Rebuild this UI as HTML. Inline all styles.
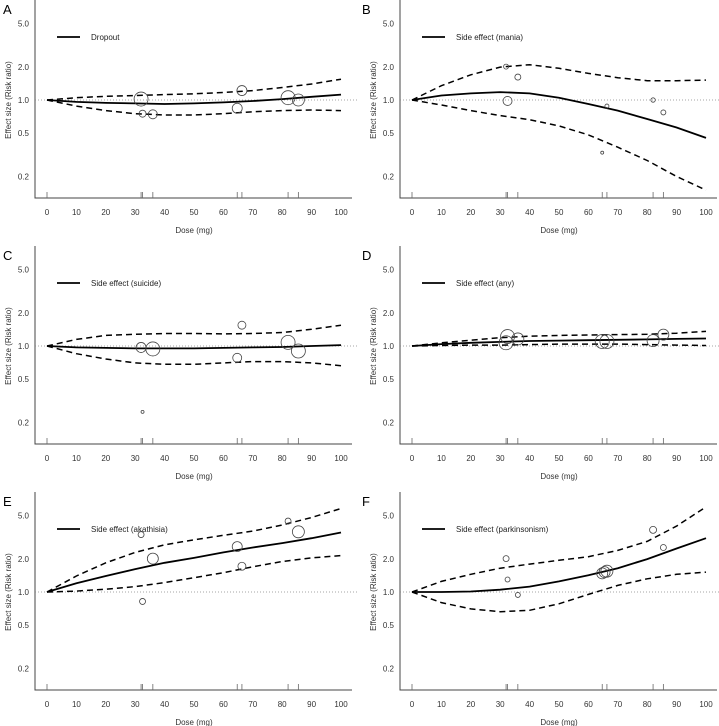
<!DOCTYPE html>
<html><head><meta charset="utf-8"><style>
html,body{margin:0;padding:0;background:#fff;}
svg{display:block;font-family:"Liberation Sans",Arial,sans-serif;}
</style></head><body>
<svg id="chart" width="719" height="726" viewBox="0 0 719 726" xmlns="http://www.w3.org/2000/svg"></svg>
<script>
const doses = [0,10,20,30,40,50,60,70,80,90,100];
const xTicks = [0,10,20,30,40,50,60,70,80,90,100];
const yTicks = [0.2,0.5,1.0,2.0,5.0];
const yTickLabels = ["0.2","0.5","1.0","2.0","5.0"];
const rugDoses = [0,32,32.5,36,64.7,66.3,82,85.5];
const panelLetters = ["A","B","C","D","E","F"];
const panelTitles = ["Dropout","Side effect (mania)","Side effect (suicide)","Side effect (any)","Side effect (akathisia)","Side effect (parkinsonism)"];
const meanA=[1,.96,.94,.93,.92,.93,.95,.98,1.02,1.07,1.12];
const upA=[1,1.05,1.08,1.1,1.12,1.14,1.17,1.22,1.3,1.4,1.55];
const loA=[1,.88,.8,.75,.73,.73,.75,.78,.8,.81,.8];
const ptDoseA=[32,32.5,36,64.7,66.3,82,85.5], ptValA=[1.02,0.75,0.74,0.84,1.22,1.05,1.0], ptSizeA=[7,3.5,4.5,5,5,7,6];
const meanB=[1,1.1,1.15,1.18,1.15,1.05,0.92,0.8,0.67,0.56,0.45];
const upB=[1,1.35,1.7,2.0,2.1,1.95,1.75,1.6,1.5,1.5,1.52];
const loB=[1,0.9,0.8,0.72,0.66,0.58,0.48,0.37,0.28,0.2,0.15];
const ptDoseB=[32,36,32.5,66.3,64.7,82,85.5], ptValB=[2.02,1.62,0.98,0.88,0.33,1.0,0.77], ptSizeB=[2.5,3,4.5,2,1.5,2.2,2.5];
const meanC=[1,.97,.96,.95,.95,.95,.96,.97,.98,1.0,1.02];
const upC=[1,1.15,1.25,1.28,1.3,1.3,1.29,1.3,1.33,1.42,1.55];
const loC=[1,.85,.76,.7,.68,.68,.7,.72,.72,.7,.66];
const ptDoseC=[32,36,64.7,66.3,82,85.5,32.5], ptValC=[0.97,0.94,0.78,1.55,1.08,0.9,0.25], ptSizeC=[5,7,4.5,4,7,7,1.5];
const meanD=[1,1.04,1.07,1.09,1.11,1.12,1.13,1.14,1.15,1.16,1.17];
const upD=[1,1.07,1.13,1.19,1.23,1.25,1.26,1.27,1.28,1.31,1.36];
const loD=[1,1.01,1.02,1.02,1.03,1.04,1.04,1.04,1.03,1.02,1.01];
const ptDoseD=[32,32.5,36,64.7,66.3,82,85.5], ptValD=[1.07,1.22,1.16,1.1,1.1,1.12,1.27], ptSizeD=[7,7,6,7,7,6,5.5];
const meanE=[1,1.2,1.4,1.62,1.85,2.05,2.3,2.55,2.8,3.1,3.5];
const upE=[1,1.4,1.85,2.3,2.7,3.0,3.3,3.6,4.1,4.8,5.8];
const loE=[1,1.02,1.06,1.12,1.22,1.35,1.5,1.7,1.9,2.05,2.15];
const ptDoseE=[32,32.5,36,64.7,66.3,82,85.5], ptValE=[3.35,0.82,2.02,2.6,1.72,4.45,3.55], ptSizeE=[3,3,5.5,5,4,3,6];
const meanF=[1,1.0,1.01,1.05,1.12,1.25,1.42,1.65,2.0,2.5,3.1];
const upF=[1,1.25,1.45,1.65,1.8,1.95,2.1,2.4,2.9,4.0,6.0];
const loF=[1,0.8,0.7,0.66,0.68,0.78,0.95,1.15,1.32,1.45,1.52];
const ptDoseF=[32,32.5,36,64.7,65.5,66.3,82,85.5], ptValF=[2.02,1.3,0.94,1.48,1.52,1.55,3.7,2.55], ptSizeF=[3,2.5,2.5,5.5,5.5,6,3.5,3];

const panels=[[meanA,upA,loA,ptDoseA,ptValA,ptSizeA],[meanB,upB,loB,ptDoseB,ptValB,ptSizeB],[meanC,upC,loC,ptDoseC,ptValC,ptSizeC],[meanD,upD,loD,ptDoseD,ptValD,ptSizeD],[meanE,upE,loE,ptDoseE,ptValE,ptSizeE],[meanF,upF,loF,ptDoseF,ptValF,ptSizeF]];
const NS="http://www.w3.org/2000/svg";
const svg=document.getElementById('chart');
function mk(tag,attrs,parent,text){const e=document.createElementNS(NS,tag);for(const k in attrs)e.setAttribute(k,attrs[k]);if(text!==undefined)e.textContent=text;parent.appendChild(e);return e;}
panels.forEach((p,i)=>{
  const col=i%2,row=Math.floor(i/2);
  const ax=35+col*365, x0=47+col*365, y1=100+246*row;
  const xs=d=>x0+d*2.94;
  const ys=v=>y1-Math.log10(v)*109.4;
  const g=mk('g',{},svg);
  
  
  const lt=mk('text',{x:3+col*359,y:y1-86,'font-size':13},g,panelLetters[i]);
  
  
  const axes=mk('path',{d:`M${ax},${y1-100}V${y1+98}H${x0+305}`,stroke:'#444',fill:'none','stroke-width':1},g);
  
  
  yTicks.forEach((t,k)=>{
    const tl=mk('text',{x:ax-6,y:ys(t)+3,'font-size':8,'text-anchor':'end',fill:'#333'},g,yTickLabels[k]);
    
    
  });
  xTicks.forEach(t=>{
    const tl=mk('text',{x:xs(t),y:y1+115,'font-size':8,'text-anchor':'middle',fill:'#333'},g,String(t));
    
    
  });
  const yt=mk('text',{x:0,y:0,'font-size':8,'text-anchor':'middle',fill:'#333',transform:`translate(${11+col*365},${y1}) rotate(-90)`},g,'Effect size (Risk ratio)');
  
  
  const xt=mk('text',{x:x0+147,y:y1+133,'font-size':8,'text-anchor':'middle',fill:'#333'},g,'Dose (mg)');
  
  
  const ref=mk('line',{x1:ax,x2:x0+311,y1:ys(1),y2:ys(1),stroke:'#888','stroke-width':0.8,'stroke-dasharray':'1,2'},g);
  
  
  rugDoses.forEach(d=>{
    const r=mk('line',{x1:xs(d),x2:xs(d),y1:y1+92,y2:y1+98,stroke:'#666','stroke-width':0.8},g);
    
    
  });
  const path=arr=>arr.map((v,k)=>(k?'L':'M')+xs(doses[k]).toFixed(1)+','+ys(v).toFixed(1)).join('');
  const up=mk('path',{d:path(p[1]),stroke:'#000',fill:'none','stroke-width':1.5,'stroke-dasharray':'6,4'},g);
  
  
  const lo=mk('path',{d:path(p[2]),stroke:'#000',fill:'none','stroke-width':1.5,'stroke-dasharray':'6,4'},g);
  
  
  const mn=mk('path',{d:path(p[0]),stroke:'#000',fill:'none','stroke-width':1.8},g);
  
  
  p[3].forEach((d,k)=>{
    const c=mk('circle',{cx:xs(d),cy:ys(p[4][k]),r:p[5][k],fill:'none',stroke:'#444','stroke-width':0.8},g);
    
    
  });
  const ll=mk('line',{x1:ax+22,x2:ax+45,y1:y1-63,y2:y1-63,stroke:'#000','stroke-width':1.8},g);
  
  
  const lx=mk('text',{x:ax+56,y:y1-60,'font-size':8,fill:'#222'},g,panelTitles[i]);
  
  
});
</script>
</body></html>
